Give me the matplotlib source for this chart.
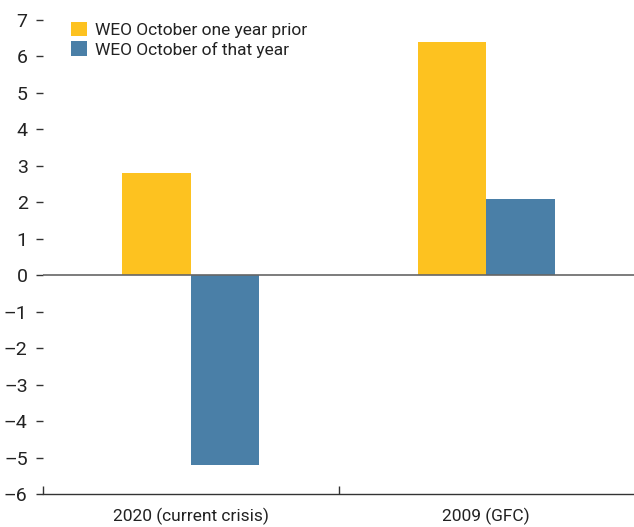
import numpy as np
import matplotlib.pyplot as plt

# dados
categorias = ['2020 (current crisis)', '2009 (GFC)']
serie_nomes = ['WEO October one year prior', 'WEO October of that year']
ano_anterior = [2.8, 6.4]
mesmo_ano = [-5.2, 2.1]
yticks = list(range(-6, 8))

cor_amarela = '#FDC220'
cor_azul = '#4A7FA7'

plt.rcParams['font.family'] = ['Roboto', 'DejaVu Sans']
tam = 12.5

fig = plt.figure(figsize=(6.34, 5.27), dpi=100)
ax = fig.add_axes([43 / 634, 33 / 527, 591 / 634, 474 / 527])

x = np.array([0.5, 1.5])
largura = 0.232
ax.bar(x - largura / 2, ano_anterior, largura, color=cor_amarela, label=serie_nomes[0])
ax.bar(x + largura / 2, mesmo_ano, largura, color=cor_azul, label=serie_nomes[1])

ax.axhline(0, color='#666666', lw=1.2, zorder=3)

ax.set_xlim(0, 2)
ax.set_ylim(-6, 7)

# eixo x: marcas nas divisas, rótulos no centro
ax.set_xticks([0, 1])
ax.set_xticklabels([])
ax.set_xticks(x, minor=True)
ax.set_xticklabels(categorias, minor=True, fontsize=tam, color='#222222')
ax.tick_params(axis='x', which='major', direction='in', length=6, width=1, color='#333333')
ax.tick_params(axis='x', which='minor', length=0, pad=10)

ax.set_yticks(yticks)
ax.set_yticklabels([str(v).replace('-', '\u2013') for v in yticks], fontsize=14, color='#222222')
ax.tick_params(axis='y', direction='out', length=5, width=1, pad=6, color='#333333')

for lado in ['top', 'right', 'left']:
    ax.spines[lado].set_visible(False)
ax.spines['bottom'].set_color('#333333')
ax.spines['bottom'].set_linewidth(1)

leg = ax.legend(loc='upper left', bbox_to_anchor=(0.045, 1.0), frameon=False, fontsize=tam,
                handlelength=0.9, handleheight=0.9, handletextpad=0.45, labelspacing=0.2,
                borderaxespad=0, borderpad=0.1)
for t in leg.get_texts():
    t.set_color('#222222')

fig.savefig('out.png', dpi=100)
